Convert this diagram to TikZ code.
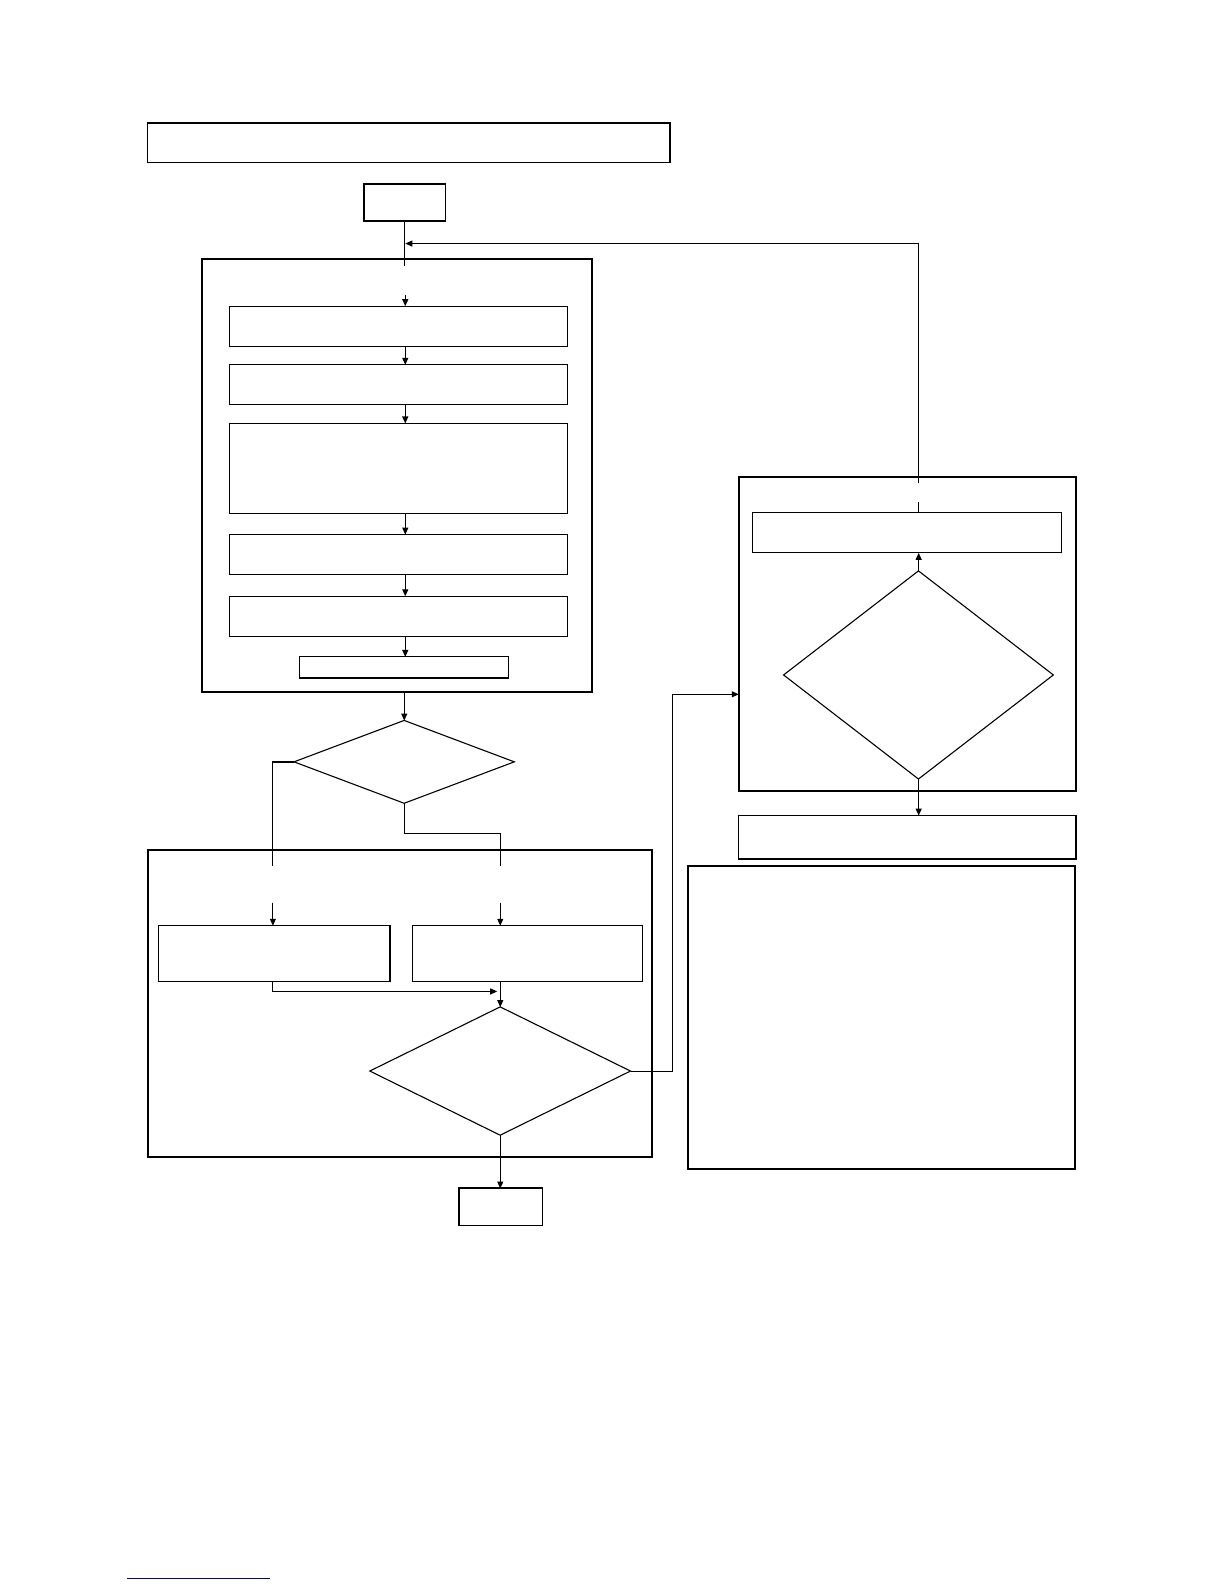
\documentclass[tikz,border=0pt]{standalone}
\usetikzlibrary{shapes.geometric,arrows.meta}
\begin{document}
\begin{tikzpicture}[x=1pt,y=-1pt,scale=1.0104,every node/.append style={transform shape},
  box/.style={draw,line width=1.1pt,inner sep=0pt,outer sep=0pt,anchor=north west},
  grp/.style={box,line width=2pt},
  dia/.style={draw,diamond,line width=1.1pt,inner sep=0pt,outer sep=0pt},
  arr/.style={line width=1.1pt,-{Triangle[length=7pt,width=6pt]}},
  ln/.style={line width=1.1pt}]
\useasboundingbox (0,0) rectangle (1211.4,1567.7);
% boxes
\node[grp,line width=1.6pt,minimum width=517pt,minimum height=39pt] (title) at (146,122) {};
\node[box,line width=1.6pt,minimum width=81pt,minimum height=37pt] (start) at (360,182) {};
\node[grp,minimum width=386pt,minimum height=429pt] (g1) at (200,256) {};
\node[box,minimum width=335pt,minimum height=40pt] (b1) at (227,303) {};
\node[box,minimum width=335pt,minimum height=39pt] (b2) at (227,361) {};
\node[box,minimum width=335pt,minimum height=89pt] (b3) at (227,419) {};
\node[box,minimum width=335pt,minimum height=40pt] (b4) at (227,529) {};
\node[box,minimum width=335pt,minimum height=40pt] (b5) at (227,590) {};
\node[box,minimum width=207pt,minimum height=21pt] (b6) at (296,650) {};
\node[grp,minimum width=499pt,minimum height=304pt] (g2) at (146,841) {};
\node[box,minimum width=229pt,minimum height=55pt] (bl) at (157,916) {};
\node[box,minimum width=228pt,minimum height=55pt] (br) at (408,916) {};
\node[box,line width=1.6pt,minimum width=83pt,minimum height=37pt] (fin) at (454,1176) {};
\node[grp,minimum width=334pt,minimum height=311pt] (g3) at (731,472) {};
\node[box,minimum width=306pt,minimum height=40pt] (b7) at (745,507) {};
\node[grp,line width=1.6pt,minimum width=334pt,minimum height=43pt] (b8) at (731,807) {};
\node[grp,minimum width=383pt,minimum height=300pt] (big) at (681,857) {};
% diamonds
\node[dia,minimum width=218pt,minimum height=82pt] (d1) at (400,754) {};
\node[dia,minimum width=258pt,minimum height=127pt] (d2) at (495,1060) {};
\node[dia,minimum width=267pt,minimum height=206pt] (d3) at (909,668) {};
% coordinates
\coordinate (j1) at (401,263);
\coordinate (j1b) at (401,292);
\coordinate (lt) at (909,241);
\coordinate (lm) at (401,241);
\coordinate (l1) at (909,478);
\coordinate (l2) at (909,497);
\coordinate (c1) at (270,857);
\coordinate (c2) at (270,893);
\coordinate (c3) at (495,825);
\coordinate (c4) at (495,857);
\coordinate (c5) at (495,893);
\coordinate (c6) at (492,981);
\coordinate (c7) at (665,687);
% connectors
\draw[ln] (start.south) -- (start.south |- j1);
\draw[arr] (l1) -- (lt) -- (lm);
\draw[ln] (b7.north -| l2) -- (l2);
\draw[arr] (j1b) -- (b1.north -| j1b);
\draw[arr] (b1.south -| j1b) -- (b2.north -| j1b);
\draw[arr] (b2.south -| j1b) -- (b3.north -| j1b);
\draw[arr] (b3.south -| j1b) -- (b4.north -| j1b);
\draw[arr] (b4.south -| j1b) -- (b5.north -| j1b);
\draw[arr] (b5.south -| j1b) -- (b6.north -| j1b);
\draw[arr] (g1.south -| d1.north) -- (d1.north);
\draw[ln] (d1.west) -| (c1);
\draw[arr] (c2) -- (c2 |- bl.north);
\draw[ln] (d1.south) -- (d1.south |- c3) -- (c3) -- (c4);
\draw[arr] (c5) -- (c5 |- br.north);
\draw[arr] (bl.south -| c1) -- (c1 |- c6) -- (c6);
\draw[arr] (d2.north |- br.south) -- (d2.north);
\draw[arr] (d2.east) -| (c7) -- (c7 -| g3.west);
\draw[arr] (d2.south) -- (d2.south |- fin.north);
\draw[arr] (d3.north) -- (d3.north |- b7.south);
\draw[arr] (d3.south) -- (d3.south |- b8.north);
% bottom blue rule
\draw[line width=1.2pt,blue!55!black] (126,1562.5) -- (267,1562.5);
\end{tikzpicture}
\end{document}
